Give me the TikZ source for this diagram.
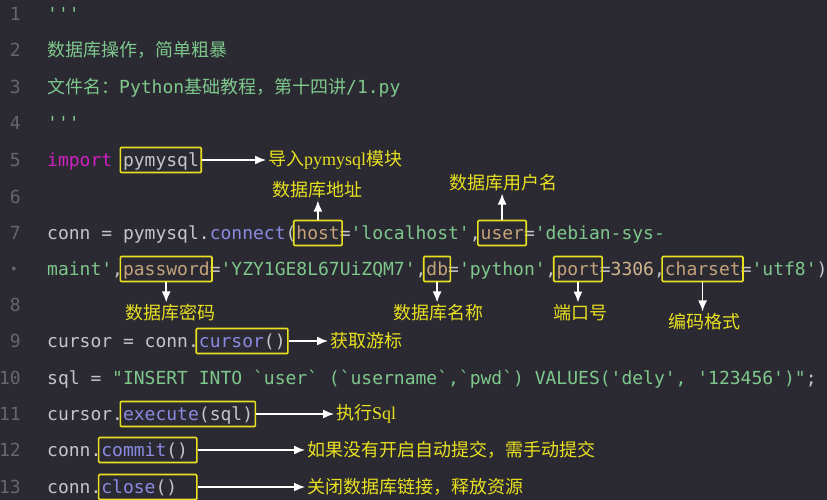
\documentclass[tikz,border=0pt]{standalone}
\usepackage{fontspec}
\usetikzlibrary{arrows.meta}
\setmonofont{DejaVu Sans Mono}
\newfontfamily\cjk{Noto Sans CJK SC}
\newfontfamily\lserif{Liberation Serif}
\definecolor{bg}{HTML}{2B2A33}
\definecolor{lnum}{HTML}{66666E}
\definecolor{plain}{HTML}{C5C5C8}
\definecolor{grn}{HTML}{7EC88C}
\definecolor{mag}{HTML}{D020C0}
\definecolor{fun}{HTML}{8A8AE0}
\definecolor{par}{HTML}{C4A27A}
\definecolor{num}{HTML}{D0B48C}
\definecolor{ylw}{HTML}{E8E020}
\newcommand\cP[1]{\textcolor{plain}{#1}}
\newcommand\cG[1]{\textcolor{grn}{#1}}
\newcommand\cM[1]{\textcolor{mag}{#1}}
\newcommand\cF[1]{\textcolor{fun}{#1}}
\newcommand\cA[1]{\textcolor{par}{#1}}
\newcommand\cN[1]{\textcolor{num}{#1}}
\begin{document}
\begin{tikzpicture}[x=1pt,y=-1pt,
  code/.style={anchor=base west,inner sep=0pt,font=\ttfamily\fontsize{18}{18}\selectfont},
  ln/.style={anchor=base east,inner sep=0pt,text=lnum,font=\ttfamily\fontsize{18}{18}\selectfont},
  hbox/.style={draw=ylw,line width=1.6pt,rounded corners=1pt,minimum height=25pt,inner sep=0pt},
  lab/.style={text=ylw,inner sep=2pt,font=\cjk\fontsize{18}{18}\selectfont},
  arr/.style={draw=white,line width=1.5pt,-{Latex[length=11pt,width=9pt]}}]
\fill[bg] (0,0) rectangle (827,500);
\useasboundingbox (0,0) rectangle (827,500);
\def\cw{10.836}
\foreach \n/\y in {1/15,2/51,3/88,4/124,5/160,6/197,7/233,8/305,9/341,10/378,11/414,12/450,13/487}
  \node[ln] (n\n) at (21,\y+6) {\n};
\node[text=lnum,inner sep=0pt] (nd) at (14,269) {$\bullet$};
\node[code] (c1) at (47,21) {\cG{'''}};
\node[code] (c2) at (47,57) {\cG{\cjk 数据库操作，简单粗暴}};
\node[code] (c3) at (47,94) {\cG{{\cjk 文件名：}Python{\cjk 基础教程，第十四讲}/1.py}};
\node[code] (c4) at (47,130) {\cG{'''}};
\node[code] (c5) at (47,166) {\cM{import} \cP{pymysql}};
\node[code] (c7) at (47,239) {\cP{conn = pymysql.}\cF{connect}\cP{(}\cA{host}\cP{=}\cG{'localhost'}\cP{,}\cA{user}\cP{=}\cG{'debian-sys-}};
\node[code] (c7b) at (47,275) {\cG{maint'}\cP{,}\cA{password}\cP{=}\cG{'YZY1GE8L67UiZQM7'}\cP{,}\cA{db}\cP{=}\cG{'python'}\cP{,}\cA{port}\cP{=}\cN{3306}\cP{,}\cA{charset}\cP{=}\cG{'utf8'}\cP{)}};
\node[code] (c9) at (47,347) {\cP{cursor = conn.}\cF{cursor}\cP{()}};
\node[code] (c10) at (47,384) {\cP{sql = }\cG{"INSERT INTO `user` (`username`,`pwd`) VALUES('dely', '123456')"}\cP{;}};
\node[code] (c11) at (47,420) {\cP{cursor.}\cF{execute}\cP{(sql)}};
\node[code] (c12) at (47,456) {\cP{conn.}\cF{commit}\cP{()}};
\node[code] (c13) at (47,493) {\cP{conn.}\cF{close}\cP{()}};
\newcommand\bx[4]{\node[hbox,minimum width={#4*\cw+5}] (#1) at ({47+(#3+#4/2)*\cw},#2) {};}
\bx{bpy}{160}{7}{7}
\bx{bhost}{233}{23}{4}
\bx{buser}{233}{40}{4}
\bx{bpw}{269}{7}{8}
\bx{bdb}{269}{35}{2}
\bx{bport}{269}{47}{4}
\bx{bcs}{269}{57}{7}
\bx{bcur}{341}{14}{8}
\bx{bex}{414}{7}{12}
\bx{bcom}{450}{5}{8.6}
\bx{bclo}{487}{5}{8.6}
\node[lab,anchor=west] (lpy) at (266,160) {导入{\lserif pymysql}模块};
\node[lab] (lhost) at (317,190) {数据库地址};
\node[lab] (luser) at (503,183) {数据库用户名};
\node[lab] (lpw) at (170,313) {数据库密码};
\node[lab] (ldb) at (438,313) {数据库名称};
\node[lab] (lport) at (580,313) {端口号};
\node[lab] (lcs) at (704,322) {编码格式};
\node[lab,anchor=west] (lcur) at (328,341) {获取游标};
\node[lab,anchor=west] (lex) at (334,414) {执行{\lserif Sql}};
\node[lab,anchor=west] (lcom) at (305,450) {如果没有开启自动提交，需手动提交};
\node[lab,anchor=west] (lclo) at (305,487) {关闭数据库链接，释放资源};
\draw[arr] (bpy.east) -- (lpy.west);
\draw[arr] (bhost.north) -- (bhost.north |- lhost.south);
\draw[arr] (buser.north) -- (buser.north |- luser.south);
\draw[arr] (bpw.south) -- (bpw.south |- lpw.north);
\draw[arr] (bdb.south) -- (bdb.south |- ldb.north);
\draw[arr] (bport.south) -- (bport.south |- lport.north);
\draw[arr] (bcs.south) -- (bcs.south |- lcs.north);
\draw[arr] (bcur.east) -- (lcur.west);
\draw[arr] (bex.east) -- (lex.west);
\draw[arr] (bcom.east) -- (lcom.west);
\draw[arr] (bclo.east) -- (lclo.west);
\end{tikzpicture}
\end{document}
